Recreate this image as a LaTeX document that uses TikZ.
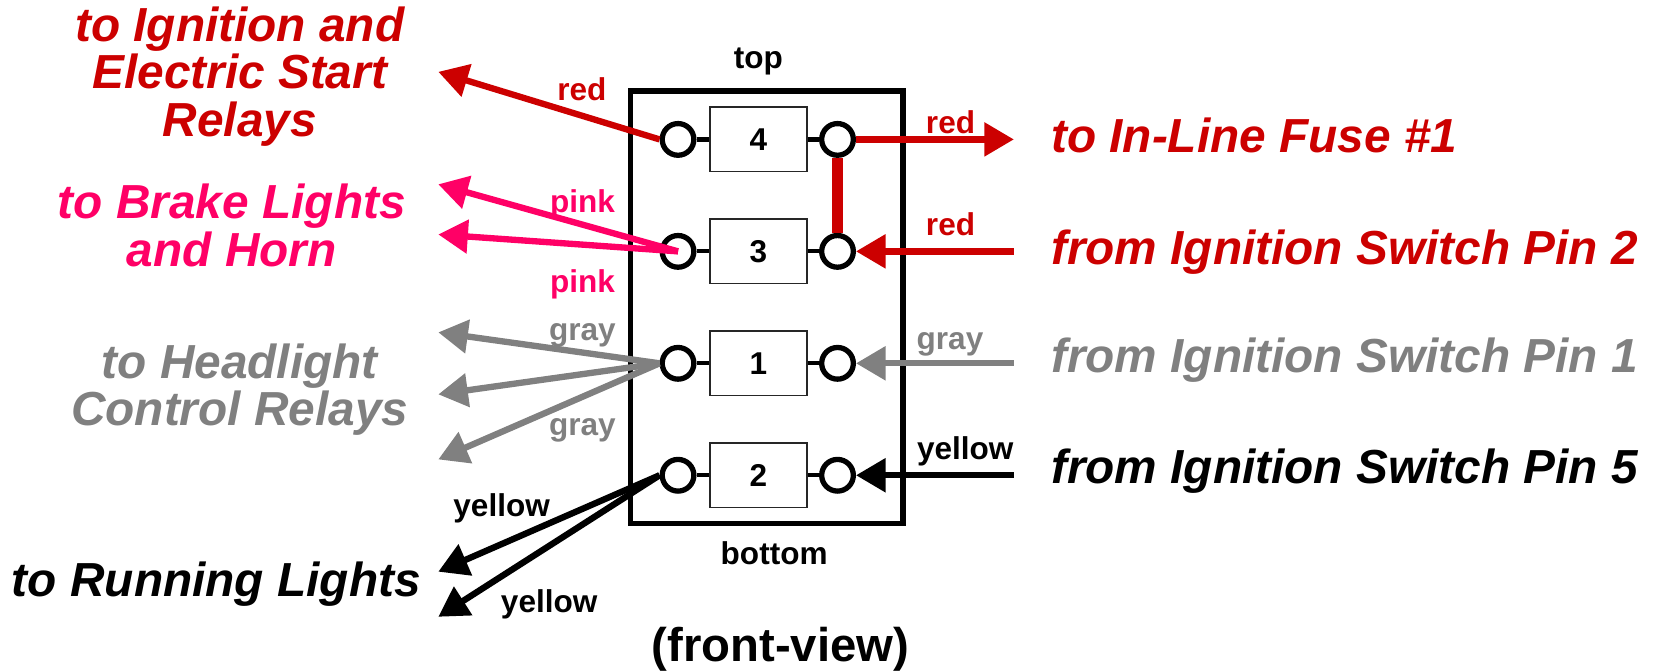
\documentclass[tikz,border=0pt]{standalone}
\usepackage{fontspec}
\setmainfont{Liberation Sans}
\usetikzlibrary{arrows.meta}
\definecolor{wred}{HTML}{CC0000}
\definecolor{wpink}{HTML}{FF0066}
\definecolor{wgray}{HTML}{808080}
\tikzset{
  x=0.02cm,y=-0.02cm,
  term/.style={circle,draw=black,fill=white,line width=0.1cm,minimum size=0.6cm,inner sep=0pt},
  relay/.style={rectangle,draw=black!85,fill=white,line width=0.03cm,minimum width=1.84cm,minimum height=1.22cm,inner sep=0pt,font=\fontsize{17}{17}\selectfont\bfseries},
  stub/.style={draw=black,line width=0.08cm},
  wire/.style={line width=0.12cm,-{Triangle[length=0.56cm,width=0.62cm]}},
  lab/.style={anchor=base,inner sep=0pt,font=\fontsize{17}{17}\selectfont\bfseries},
  big/.style={anchor=base,align=center,inner sep=0pt,font=\fontsize{25.75}{25.5}\selectfont\bfseries\itshape},
  bigl/.style={big,anchor=base west,align=left},
}
\begin{document}
\begin{tikzpicture}
\useasboundingbox (0,0) rectangle (1568,635.4);
\node[draw=black,line width=0.105cm,minimum width=5.156cm,minimum height=8.188cm,inner sep=0pt,outer sep=0pt,anchor=north west] (case) at (597.2,86.2) {};
% rows
\node[relay] (r4) at (718,132) {4};
\node[relay] (r3) at (718,238) {3};
\node[relay] (r1) at (718,344) {1};
\node[relay] (r2) at (718,450) {2};
\foreach \n/\y in {4/132,3/238,1/344,2/450}{
  \node[term] (l\n) at (642,\y) {};
  \node[term] (t\n) at (793,\y) {};
  \draw[stub] (l\n) -- (r\n);
  \draw[stub] (r\n) -- (t\n);
}
% free ends
\coordinate (aRed) at (415,68);
\coordinate (aPinkA) at (415,174.5);
\coordinate (aPinkB) at (415,222);
\coordinate (aGrayA) at (415,314.7);
\coordinate (aGrayB) at (415,373.4);
\coordinate (aGrayC) at (415,435);
\coordinate (aYelA) at (415,541.3);
\coordinate (aYelB) at (415,584);
\coordinate (eFuse) at (960,132);
\coordinate (eP2) at (960,238);
\coordinate (eP1) at (960,344);
\coordinate (eP5) at (960,450);
% wires
\draw[wire,wred] (l4.west) -- (aRed);
\draw[wire,wpink] (l3.center) -- (aPinkA);
\draw[wire,wpink] (l3.center) -- (aPinkB);
\draw[wire,wgray] (l1.west) -- (aGrayA);
\draw[wire,wgray] (l1.west) -- (aGrayB);
\draw[wire,wgray] (l1.west) -- (aGrayC);
\draw[wire,black] (l2.west) -- (aYelA);
\draw[wire,black] (l2.west) -- (aYelB);
\draw[wire,wred] (t4.east) -- (eFuse);
\draw[wire,wred] (eP2) -- (t3.east);
\draw[wire,wgray] (eP1) -- (t1.east);
\draw[wire,black] (eP5) -- (t2.east);
\draw[wred,line width=0.22cm] (t4.south) -- (t3.north);
% small labels
\node[lab] (top) at (718,65) {top};
\node[lab] (bottom) at (733,534.5) {bottom};
\node[lab,wred] (la) at (551,95) {red};
\node[lab,wpink] (lb) at (551.5,201) {pink};
\node[lab,wpink] (lc) at (551.5,277) {pink};
\node[lab,wgray] (ld) at (551.5,322.5) {gray};
\node[lab,wgray] (le) at (551.5,412.5) {gray};
\node[lab] (lf) at (475,489) {yellow};
\node[lab] (lg) at (520,579.5) {yellow};
\node[lab,wred] (lh) at (900,126) {red};
\node[lab,wred] (li) at (900,223) {red};
\node[lab,wgray] (lj) at (899.5,331) {gray};
\node[lab] (lk) at (914,435) {yellow};
% big labels
\node[big,wred] (ta) at (227,129) {to Ignition and\\Electric Start\\Relays};
\node[big,wpink] (tb) at (219.5,252) {to Brake Lights\\and Horn};
\node[big,wgray] (tc) at (227,403) {to Headlight\\Control Relays};
\node[bigl] (td) at (11,565) {to Running Lights};
\node[bigl,wred] (te) at (995,144.5) {to In-Line Fuse \#1};
\node[bigl,wred] (tf) at (995,250) {from Ignition Switch Pin 2};
\node[bigl,wgray] (tg) at (995,353) {from Ignition Switch Pin 1};
\node[bigl] (th) at (995,458) {from Ignition Switch Pin 5};
\node[anchor=base,inner sep=0pt,font=\fontsize{25.5}{25.5}\selectfont\bfseries] (fv) at (739,626) {(front-view)};
\end{tikzpicture}
\end{document}
